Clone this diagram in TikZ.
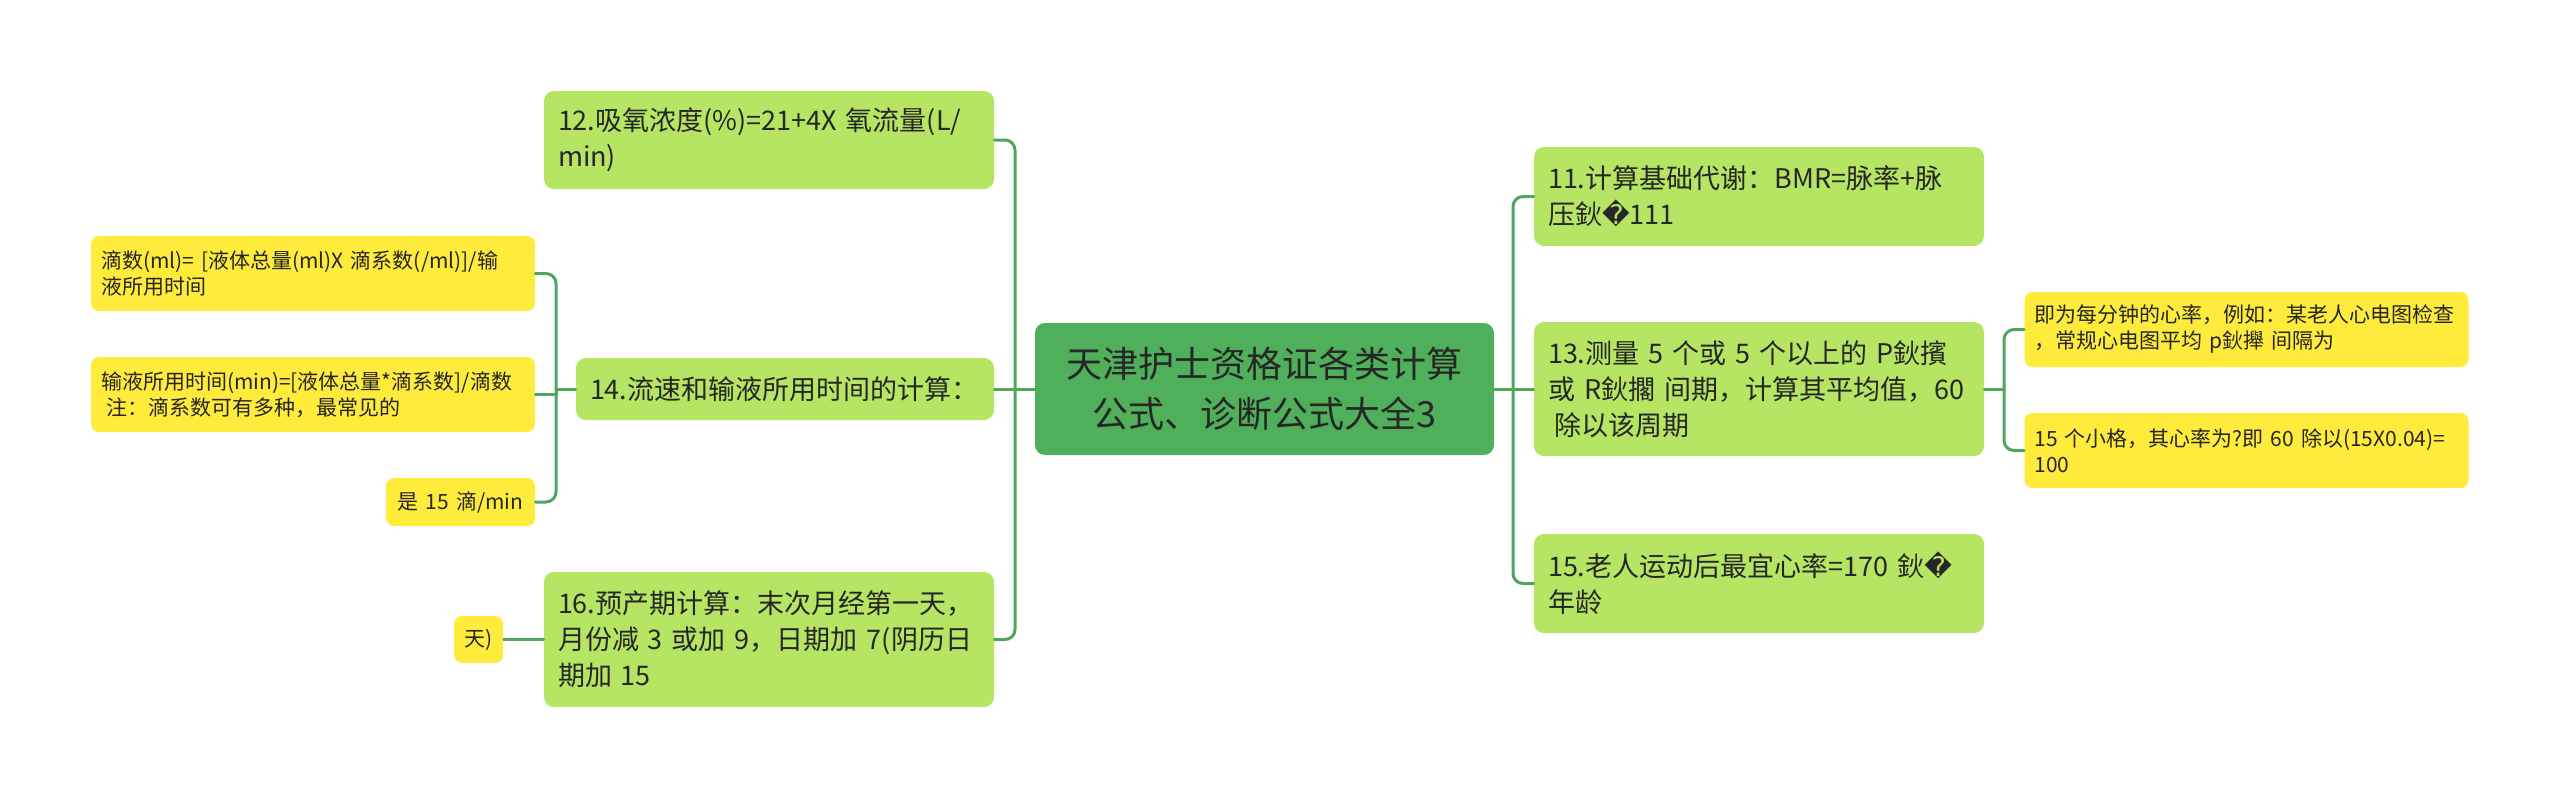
\documentclass[tikz,border=0pt]{standalone}
\usepackage{fontspec}
\setmainfont{Noto Sans CJK SC}
\newfontfamily\symfont{DejaVu Sans}
\usepackage{xcolor}
\usepackage{tikz}
\usetikzlibrary{positioning}
\definecolor{rootgreen}{HTML}{4FAF5B}
\definecolor{topicgreen}{HTML}{B5E563}
\definecolor{noteyellow}{HTML}{FFEB3B}
\definecolor{linkgreen}{HTML}{50A55F}
\definecolor{ink}{HTML}{262626}
\newcommand{\badchar}{{\symfont\char"FFFD}}
\tikzset{
    every picture/.style={line cap=round,line join=round},
    rootnode/.style={fill=rootgreen,rounded corners=5pt,
      minimum width=229.5pt,minimum height=66pt,inner sep=0pt,
      text=ink,align=center,font=\fontsize{18}{25}\selectfont},
    topicnode/.style={fill=topicgreen,rounded corners=5pt,
      inner xsep=7pt,inner ysep=0pt,text width=211pt,
      text=ink,align=left,font=\fontsize{13.5}{18}\selectfont},
    notenode/.style={fill=noteyellow,rounded corners=4pt,
      inner xsep=5pt,inner ysep=0pt,text width=212pt,
      text=ink,align=left,font=\fontsize{10.5}{13}\selectfont},
    link/.style={draw=linkgreen,line width=1.5pt,rounded corners=5pt}
}

\begin{document}
\begin{tikzpicture}[x=0.5pt,y=-0.5pt]
  \useasboundingbox (0,0) rectangle (2560,799);

  \node[rootnode] (root) at (1264.5,389) {天津护士资格证各类计算\\公式、诊断公式大全3};

  % left branch
  \node[topicnode,minimum height=49pt] (n12) at (769,140)
    {12.吸氧浓度(\%)=21+4X~氧流量(L/\\min)};
  \node[topicnode,text width=195pt,minimum height=31pt] (n14) at (785,389)
    {14.流速和输液所用时间的计算：};
  \node[topicnode,minimum height=67.5pt] (n16) at (769,639.5)
    {16.预产期计算：末次月经第一天，\\月份减~3~或加~9，日期加~7(阴历日\\期加~15};

  \node[notenode,minimum height=37.5pt] (l1) at (313,273.5)
    {滴数(ml)=~[液体总量(ml)X~滴系数(/ml)]/输\\液所用时间};
  \node[notenode,minimum height=37.5pt] (l2) at (313,394.5)
    {输液所用时间(min)=[液体总量*滴系数]/滴数\\\hspace*{.25em}注：滴系数可有多种，最常见的};
  \node[notenode,text width=64.5pt,align=center,minimum height=24pt] (l3) at (460.5,502)
    {是~15~滴/min};
  \node[notenode,text width=14.5pt,align=center,minimum height=23.5pt,left=20pt of n16] (l4)
    {天)};

  % right branch
  \node[topicnode,minimum height=49.5pt] (n11) at (1759,196.5)
    {11.计算基础代谢：BMR=脉率+脉\\压鈥\badchar111};
  \node[topicnode,minimum height=67pt] (n13) at (1759,389)
    {13.测量~5~个或~5~个以上的~P鈥擯\\或~R鈥擱~间期，计算其平均值，60\\\hspace*{.25em}除以该周期};
  \node[topicnode,minimum height=49.5pt] (n15) at (1759,583.5)
    {15.老人运动后最宜心率=170~鈥\badchar\\年龄};

  \node[notenode,minimum height=37.5pt] (la) at (2246.5,329.5)
    {即为每分钟的心率，例如：某老人心电图检查\\，常规心电图平均~p鈥攑~间隔为};
  \node[notenode,minimum height=37.5pt] (lb) at (2246.5,450.5)
    {15~个小格，其心率为?即~60~除以(15X0.04)=\\100};

  % connectors
  \coordinate (lt) at (1015,389);
  \coordinate (rt) at (1513,389);
  \coordinate (t14) at (556,389);
  \coordinate (t13) at (2004,389);

  \draw[link] (root.west) -- (lt);
  \foreach \kid in {n12,n16}
    \draw[link] (lt) |- (\kid.east);
  \draw[link] (lt) -- (n14.east);

  \draw[link] (root.east) -- (rt);
  \foreach \kid in {n11,n15}
    \draw[link] (rt) |- (\kid.west);
  \draw[link] (rt) -- (n13.west);

  \draw[link] (n14.west) -- (t14);
  \foreach \kid in {l1,l3}
    \draw[link] (t14) |- (\kid.east);
  \draw[link,sharp corners] (t14) |- (l2.east);
  \draw[link] (n16.west) -- (l4.east);

  \draw[link] (n13.east) -- (t13);
  \foreach \kid in {la,lb}
    \draw[link] (t13) |- (\kid.west);
\end{tikzpicture}
\end{document}
